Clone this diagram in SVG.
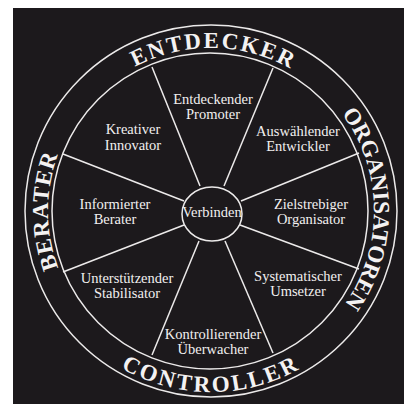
<svg xmlns="http://www.w3.org/2000/svg" width="407" height="404" viewBox="0 0 407 404">
<style>
.ln{fill:none;stroke:#eceaea;stroke-width:1.5}
.lb{font-family:"Liberation Serif","Times New Roman",serif;font-size:14.5px;fill:#f2f0f0;text-anchor:middle}
.big{font-family:"Liberation Serif","Times New Roman",serif;font-size:23px;font-weight:bold;fill:#f4f2f2}
</style>
<defs>
<path id="pTop" d="M 48,211 A 163 163 0 0 1 374,211"/>
<path id="pRight" d="M 211,48 A 163 163 0 0 1 211,374"/>
<path id="pLeft" d="M 211,374 A 163 163 0 0 1 211,48"/>
<path id="pBot" d="M 30,211 A 181 181 0 0 0 392,211"/>
</defs>
<rect x="13" y="8" width="391" height="396" fill="#1c191c"/>
<g id="connectors">
<line class="ln" x1="152" y1="67" x2="200" y2="186"/>
<line class="ln" x1="273" y1="68" x2="224" y2="186"/>
<line class="ln" x1="359" y1="153" x2="241" y2="201"/>
<line class="ln" x1="359" y1="269" x2="240" y2="225"/>
<line class="ln" x1="273" y1="353" x2="225" y2="241"/>
<line class="ln" x1="152" y1="355" x2="199" y2="241"/>
<line class="ln" x1="63" y1="272" x2="184" y2="225"/>
<line class="ln" x1="63" y1="154" x2="184" y2="201"/>
</g>
<g id="rings">
<circle class="ln" cx="211" cy="211" r="186"/>
<circle class="ln" cx="210" cy="211" r="158"/>
</g>
<g id="entdecker"><text class="big" letter-spacing="2"><textPath href="#pTop" startOffset="50.5%" text-anchor="middle">ENTDECKER</textPath></text></g>
<g id="organisatoren"><text class="big"><textPath href="#pRight" startOffset="49.5%" text-anchor="middle">ORGANISATOREN</textPath></text></g>
<g id="berater"><text class="big" letter-spacing="1"><textPath href="#pLeft" startOffset="50%" text-anchor="middle">BERATER</textPath></text></g>
<g id="controller"><text class="big" letter-spacing="2.5"><textPath href="#pBot" startOffset="50%" text-anchor="middle">CONTROLLER</textPath></text></g>
<g id="verbinden">
<ellipse class="ln" cx="212" cy="214" rx="30" ry="27"/>
<text class="lb" x="212" y="217">Verbinden</text>
</g>
<g id="entdeckender-promoter"><text class="lb" x="213" y="104">Entdeckender</text><text class="lb" x="213" y="119">Promoter</text></g>
<g id="kreativer-innovator"><text class="lb" x="133" y="134">Kreativer</text><text class="lb" x="133" y="150">Innovator</text></g>
<g id="auswaehlender-entwickler"><text class="lb" x="298" y="136">Auswählender</text><text class="lb" x="298" y="151">Entwickler</text></g>
<g id="informierter-berater"><text class="lb" x="115" y="209">Informierter</text><text class="lb" x="115" y="224">Berater</text></g>
<g id="zielstrebiger-organisator"><text class="lb" x="311" y="209">Zielstrebiger</text><text class="lb" x="311" y="224">Organisator</text></g>
<g id="unterstuetzender-stabilisator"><text class="lb" x="127" y="283">Unterstützender</text><text class="lb" x="127" y="298">Stabilisator</text></g>
<g id="systematischer-umsetzer"><text class="lb" x="298" y="281">Systematischer</text><text class="lb" x="298" y="296">Umsetzer</text></g>
<g id="kontrollierender-ueberwacher"><text class="lb" x="213" y="339">Kontrollierender</text><text class="lb" x="213" y="354">Überwacher</text></g>
</svg>
